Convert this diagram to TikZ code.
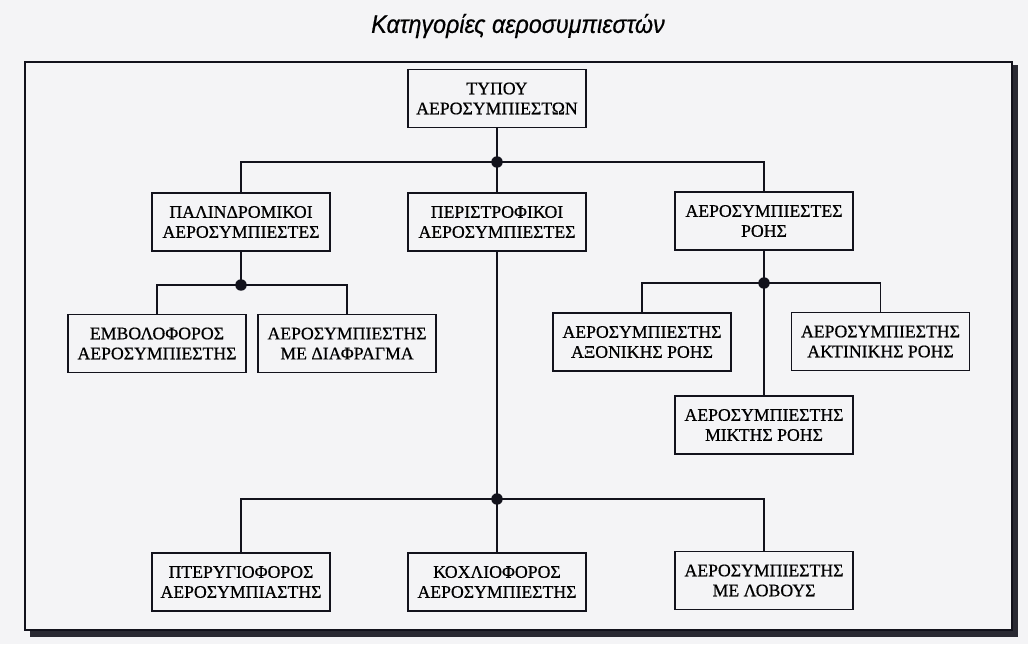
\documentclass[tikz,border=0pt]{standalone}
\usepackage{fontspec}
\setmainfont[FakeBold=0.6]{Liberation Serif}
\newfontfamily\titlefont[FakeStretch=0.92,FakeBold=0.5]{Liberation Sans}
\definecolor{paper}{RGB}{244,244,246}
\definecolor{ink}{RGB}{18,18,28}
\begin{document}
\begin{tikzpicture}[x=0.75pt,y=-0.75pt,
  box/.style={draw=ink, line width=1.1pt, minimum width=133.5pt, minimum height=43.5pt,
    align=center, inner sep=2pt, font=\fontsize{13.3}{15}\selectfont},
  link/.style={draw=ink, line width=1.1pt},
  dot/.style={circle, fill=ink, inner sep=0pt, minimum size=8.6pt}]
\fill[paper] (0,0) rectangle (1028,644);
\useasboundingbox (0,0) rectangle (1028,644);
% frame with shadow
\fill[ink!90] (30,630) rectangle (1018,637);
\fill[ink!90] (1012,65) rectangle (1018,637);
\draw[ink, line width=1pt] (25,62) rectangle (1012,630);
% title
\node[font=\titlefont\itshape\fontsize{19}{22}\selectfont] (title) at (518,26) {Κατηγορίες αεροσυμπιεστών};
% boxes
\node[box] (typ) at (497,98.5) {ΤΥΠΟΥ\\ΑΕΡΟΣΥΜΠΙΕΣΤΩΝ};
\node[box] (pal) at (241,222) {ΠΑΛΙΝΔΡΟΜΙΚΟΙ\\ΑΕΡΟΣΥΜΠΙΕΣΤΕΣ};
\node[box] (per) at (497,222) {ΠΕΡΙΣΤΡΟΦΙΚΟΙ\\ΑΕΡΟΣΥΜΠΙΕΣΤΕΣ};
\node[box] (roh) at (764,221) {ΑΕΡΟΣΥΜΠΙΕΣΤΕΣ\\ΡΟΗΣ};
\node[box] (emv) at (157,343.5) {ΕΜΒΟΛΟΦΟΡΟΣ\\ΑΕΡΟΣΥΜΠΙΕΣΤΗΣ};
\node[box] (dia) at (347,343.5) {ΑΕΡΟΣΥΜΠΙΕΣΤΗΣ\\ΜΕ ΔΙΑΦΡΑΓΜΑ};
\node[box] (axo) at (642,342) {ΑΕΡΟΣΥΜΠΙΕΣΤΗΣ\\ΑΞΟΝΙΚΗΣ ΡΟΗΣ};
\node[box] (akt) at (880.5,341.5) {ΑΕΡΟΣΥΜΠΙΕΣΤΗΣ\\ΑΚΤΙΝΙΚΗΣ ΡΟΗΣ};
\node[box] (mik) at (764,425) {ΑΕΡΟΣΥΜΠΙΕΣΤΗΣ\\ΜΙΚΤΗΣ ΡΟΗΣ};
\node[box] (pte) at (241,582) {ΠΤΕΡΥΓΙΟΦΟΡΟΣ\\ΑΕΡΟΣΥΜΠΙΑΣΤΗΣ};
\node[box] (kox) at (497,582) {ΚΟΧΛΙΟΦΟΡΟΣ\\ΑΕΡΟΣΥΜΠΙΕΣΤΗΣ};
\node[box] (lob) at (764,580.5) {ΑΕΡΟΣΥΜΠΙΕΣΤΗΣ\\ΜΕ ΛΟΒΟΥΣ};
% junctions
\coordinate (j1) at (497,162);
\coordinate (j2) at (241,285);
\coordinate (j3) at (764,283);
\coordinate (j4) at (497,499);
% connectors
\draw[link] (typ.south) -- (j1) -- (per.north);
\draw[link] (pal.north) |- (j1) -| (roh.north);
\draw[link] (pal.south) -- (j2);
\draw[link] (emv.north) |- (j2) -| (dia.north);
\draw[link] (roh.south) -- (j3) -- (mik.north);
\draw[link] (axo.north) |- (j3) -| (akt.north);
\draw[link] (per.south) -- (j4) -- (kox.north);
\draw[link] (pte.north) |- (j4) -| (lob.north);
% dots
\node[dot] (d1) at (j1) {};
\node[dot] (d2) at (j2) {};
\node[dot] (d3) at (j3) {};
\node[dot] (d4) at (j4) {};
\end{tikzpicture}
\end{document}
